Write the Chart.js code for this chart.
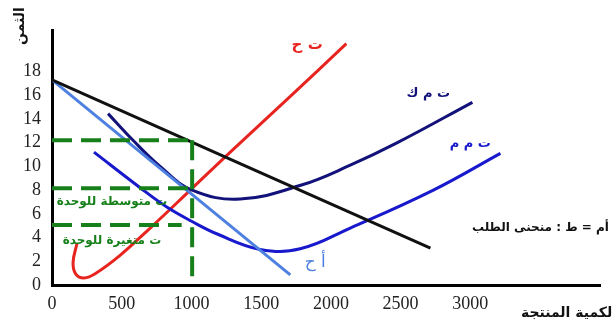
<!DOCTYPE html>
<html>
<head>
<meta charset="utf-8">
<script src="https://cdn.jsdelivr.net/npm/chart.js@4.4.0/dist/chart.umd.min.js"></script>
<style>
  body { margin: 0; background: #fff; }
  canvas { display: block; }
</style>
</head>
<body>
<canvas id="chart" width="612" height="327"></canvas>
<script>
// tick labels
const xTicks = [0, 500, 1000, 1500, 2000, 2500, 3000];
const yTicks = [0, 2, 4, 6, 8, 10, 12, 14, 16, 18];

// demand curve (أم = ط)
const demandQ = [0, 2714];
const demandP = [17.3, 3.1];

// marginal revenue (أ ح)
const mrQ = [0, 1709];
const mrP = [17.3, 0.85];

// marginal cost (ت ح)
const mcQ = [179, 151, 172, 230, 309, 488, 704, 1005, 1292, 1709, 2111];
const mcP = [3.5, 1.9, 0.9, 0.6, 0.95, 2.5, 4.8, 8.15, 11.35, 15.9, 20.35];

// average total cost (ت م ك)
const atcQ = [402, 581, 775, 1005, 1350, 1795, 2139, 2477, 3015];
const atcP = [14.45, 12.2, 10.0, 8.0, 7.25, 8.45, 10.1, 12.0, 15.4];

// average variable cost (ت م م)
const avcQ = [301, 632, 826, 1005, 1185, 1493, 1780, 2139, 2735, 3216];
const avcP = [11.2, 8.2, 6.55, 5.35, 4.3, 3.0, 3.05, 4.8, 8.0, 11.1];

// green dashed guides at q = 1000
const guideQ = [0, 1005];
const priceLevel = 12.2;
const atcLevel = 8.15;
const avcLevel = 5.05;
const avcGuideEnd = 930;

const pts = (xs, ys) => xs.map((x, i) => ({x: x, y: ys[i]}));

const GREEN = '#17801a';
const NAVY = '#12127a';
const BLUE = '#1818cc';
const LIGHT = '#4d80e0';
const RED = '#e82420';

const curve = (data, color) => ({
  data: data, borderColor: color, borderWidth: 3, showLine: true,
  pointRadius: 0, tension: 0.4, fill: false
});
const dashed = (data) => ({
  data: data, borderColor: GREEN, borderWidth: 4, borderDash: [20, 9],
  showLine: true, pointRadius: 0, tension: 0, fill: false
});

// text labels, placed in data units
const labels = [
  {text: 'ت ح', q: 1830, p: 20.2, color: RED, font: 'bold 15px "DejaVu Sans"'},
  {text: 'ت م ك', q: 2699, p: 16.15, color: NAVY, font: 'bold 13px "DejaVu Sans"'},
  {text: 'ت م م', q: 3000, p: 11.94, color: BLUE, font: 'bold 13px "DejaVu Sans"'},
  {text: 'أ ح', q: 1888, p: 1.85, color: LIGHT, font: '17px "DejaVu Sans"'},
  {text: 'أم = ط : منحنى الطلب', q: 3503, p: 4.8, color: '#111', font: 'bold 12px "DejaVu Sans"'},
  {text: 'ت متوسطة للوحدة', q: 430, p: 6.98, color: GREEN, font: 'bold 12px "DejaVu Sans"'},
  {text: 'ت متغيرة للوحدة', q: 430, p: 3.7, color: GREEN, font: 'bold 12px "DejaVu Sans"'}
];

const textPlugin = {
  id: 'texts',
  afterDatasetsDraw(chart) {
    const ctx = chart.ctx;
    const xs = chart.scales.x, ys = chart.scales.y;
    ctx.save();
    ctx.textAlign = 'center';
    ctx.textBaseline = 'middle';
    labels.forEach(l => {
      ctx.font = l.font;
      ctx.fillStyle = l.color;
      ctx.fillText(l.text, xs.getPixelForValue(l.q), ys.getPixelForValue(l.p));
    });
    // axis titles
    ctx.fillStyle = '#111';
    ctx.font = 'bold 14px "DejaVu Sans"';
    ctx.textAlign = 'right';
    ctx.fillText('الكمية المنتجة', 617, 313);
    ctx.translate(20, 26);
    ctx.rotate(-Math.PI / 2);
    ctx.textAlign = 'center';
    ctx.fillText('الثمن', 0, 0);
    ctx.restore();
  }
};

new Chart(document.getElementById('chart'), {
  type: 'scatter',
  data: {
    datasets: [
      dashed(pts(guideQ, [priceLevel, priceLevel])),
      dashed(pts(guideQ, [atcLevel, atcLevel])),
      dashed(pts([0, avcGuideEnd], [avcLevel, avcLevel])),
      dashed(pts([guideQ[1], guideQ[1]], [priceLevel, 0])),
      curve(pts(demandQ, demandP), '#111'),
      curve(pts(mrQ, mrP), LIGHT),
      curve(pts(avcQ, avcP), BLUE),
      curve(pts(atcQ, atcP), NAVY),
      curve(pts(mcQ, mcP), RED)
    ]
  },
  options: {
    responsive: false,
    animation: false,
    devicePixelRatio: 1,
    layout: {padding: {top: 30, right: 12, left: 0, bottom: 0}},
    plugins: {legend: {display: false}, tooltip: {enabled: false}},
    scales: {
      x: {
        type: 'linear', min: 0, max: 3930,
        grid: {display: false, drawTicks: false},
        border: {color: '#000', width: 3},
        ticks: {
          font: {family: 'Liberation Serif', size: 18}, color: '#222', padding: 8, maxRotation: 0,
          callback: v => String(v)
        },
        afterBuildTicks: s => { s.ticks = xTicks.map(v => ({value: v})); },
        afterFit: s => { s.height = 42; }
      },
      y: {
        type: 'linear', min: 0, max: 21.5,
        grid: {display: false, drawTicks: false},
        border: {color: '#000', width: 3},
        ticks: {font: {family: 'Liberation Serif', size: 18}, color: '#222', padding: 11},
        afterBuildTicks: s => { s.ticks = yTicks.map(v => ({value: v})); },
        afterFit: s => { s.width = 52; }
      }
    }
  },
  plugins: [textPlugin]
});
</script>
</body>
</html>
